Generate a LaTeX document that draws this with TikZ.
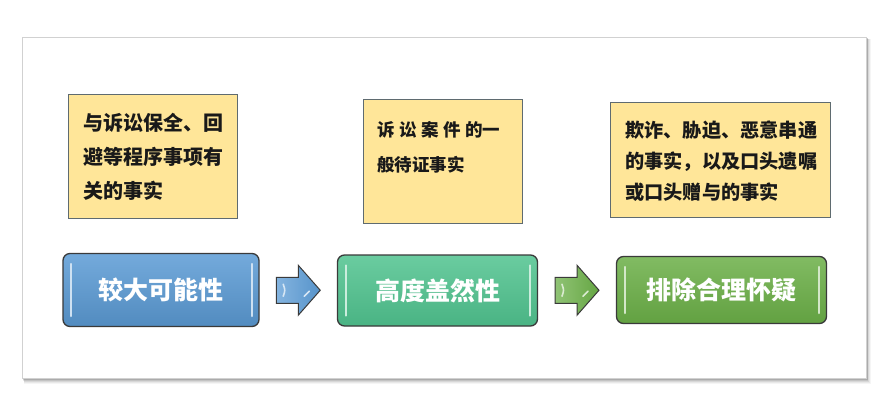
\documentclass[tikz,border=0pt]{standalone}
\usepackage{fontspec}
\setmainfont{Noto Sans CJK SC}
\usetikzlibrary{calc}
\definecolor{factfill}{HTML}{FFE699}
\definecolor{factline}{HTML}{5F6B70}
\definecolor{blueb}{HTML}{5B9BD5}
\definecolor{mintb}{HTML}{50C38F}
\definecolor{greenb}{HTML}{6BAF47}
\definecolor{btnline}{HTML}{3A3A3A}
\begin{document}
\begin{tikzpicture}[x=1pt,y=-1pt,
  factbox/.style={draw=factline, line width=1pt, fill=factfill, inner sep=0pt},
  facttext/.style={inner sep=0pt, anchor=north west, align=left, text=black!90},
  btn/.style={draw=btnline, line width=1.3pt, rounded corners=7pt, inner sep=0pt,
    text=white, font=\fontsize{25}{30}\selectfont\bfseries},
  gloss/.style={line width=2.2pt, line cap=round, draw=#1},
  blockarrow/.style={draw=btnline, line width=1pt, line join=miter}
]
\useasboundingbox (0,0) rectangle (888,406);
\fill[white] (0,0) rectangle (888,406);
% frame shadow
\foreach \d/\o in {6/0.04,5/0.05,4/0.07,3/0.09,2/0.12,1/0.15}
  \fill[black,opacity=\o] (22+\d*0.4,37+\d*0.4) rectangle (866+\d*0.8,378+\d);
\draw[fill=white, draw=black!18, line width=0.8pt] (22,37) rectangle (866,378);

% fact boxes
\node[factbox, minimum width=169pt, minimum height=123pt] (fact1) at (152.5,156.5) {};
\node[factbox, minimum width=159pt, minimum height=123pt] (fact2) at (442.5,161.5) {};
\node[factbox, minimum width=220pt, minimum height=115pt] (fact3) at (720,160) {};

\node[facttext, font=\fontsize{20}{34}\selectfont\bfseries] (t1) at (83,113)
  {与诉讼保全、回\\避等程序事项有\\关的事实};
\node[facttext, font=\fontsize{17.5}{35}\selectfont\bfseries] (t2) at (377,121)
  {{\addfontfeature{LetterSpace=26}诉讼案件的}一\\般待证事实};
\node[facttext, font=\fontsize{19.2}{31}\selectfont\bfseries] (t3) at (625,121)
  {欺诈、胁迫、恶意串通\\的事实，以及口头遗嘱\\或口头赠与的事实};

% buttons
\node[btn, minimum width=196pt, minimum height=73pt,
  top color=blueb!85!white, bottom color=blueb!90!black] (b1) at (161,290) {较大可能性};
\node[btn, minimum width=200pt, minimum height=71pt,
  top color=mintb!85!white, bottom color=mintb!92!black] (b2) at (437.5,290.5) {高度盖然性};
\node[btn, minimum width=210pt, minimum height=67pt,
  top color=greenb!85!white, bottom color=greenb!92!black] (b3) at (721.5,290) {排除合理怀疑};

% glossy highlights
\foreach \b/\c in {b1/blueb!30!white, b2/mintb!30!white, b3/greenb!30!white}{
  \draw[gloss=\c] ($(\b.north west)+(9,11)$) -- ($(\b.south west)+(9,-11)$);
  \draw[gloss=\c] ($(\b.north east)+(-8,11)$) -- ($(\b.south east)+(-8,-11)$);
}

% block arrows between buttons
\coordinate (a1) at ($(b1.east)!0.5!(b2.west)$);
\coordinate (a2) at ($(b2.east)!0.5!(b3.west)$);
\foreach \a/\c in {a1/blueb, a2/greenb}{
  \draw[blockarrow, left color=\c!75!white, right color=\c!95!black]
    ($(\a)+(-22,-13)$) -- ($(\a)+(0,-13)$) -- ($(\a)+(0,-25)$) -- ($(\a)+(22,0)$)
    -- ($(\a)+(0,25)$) -- ($(\a)+(0,13)$) -- ($(\a)+(-22,13)$) -- cycle;
  \draw[gloss=\c!25!white, line width=1.6pt] ($(\a)+(-15,-6)$) .. controls ($(\a)+(-13,0)$) .. ($(\a)+(-15,6)$);
  \draw[gloss=\c!25!white, line width=1.6pt] ($(\a)+(6,6)$) -- ($(\a)+(11,1)$);
}
\end{tikzpicture}
\end{document}
